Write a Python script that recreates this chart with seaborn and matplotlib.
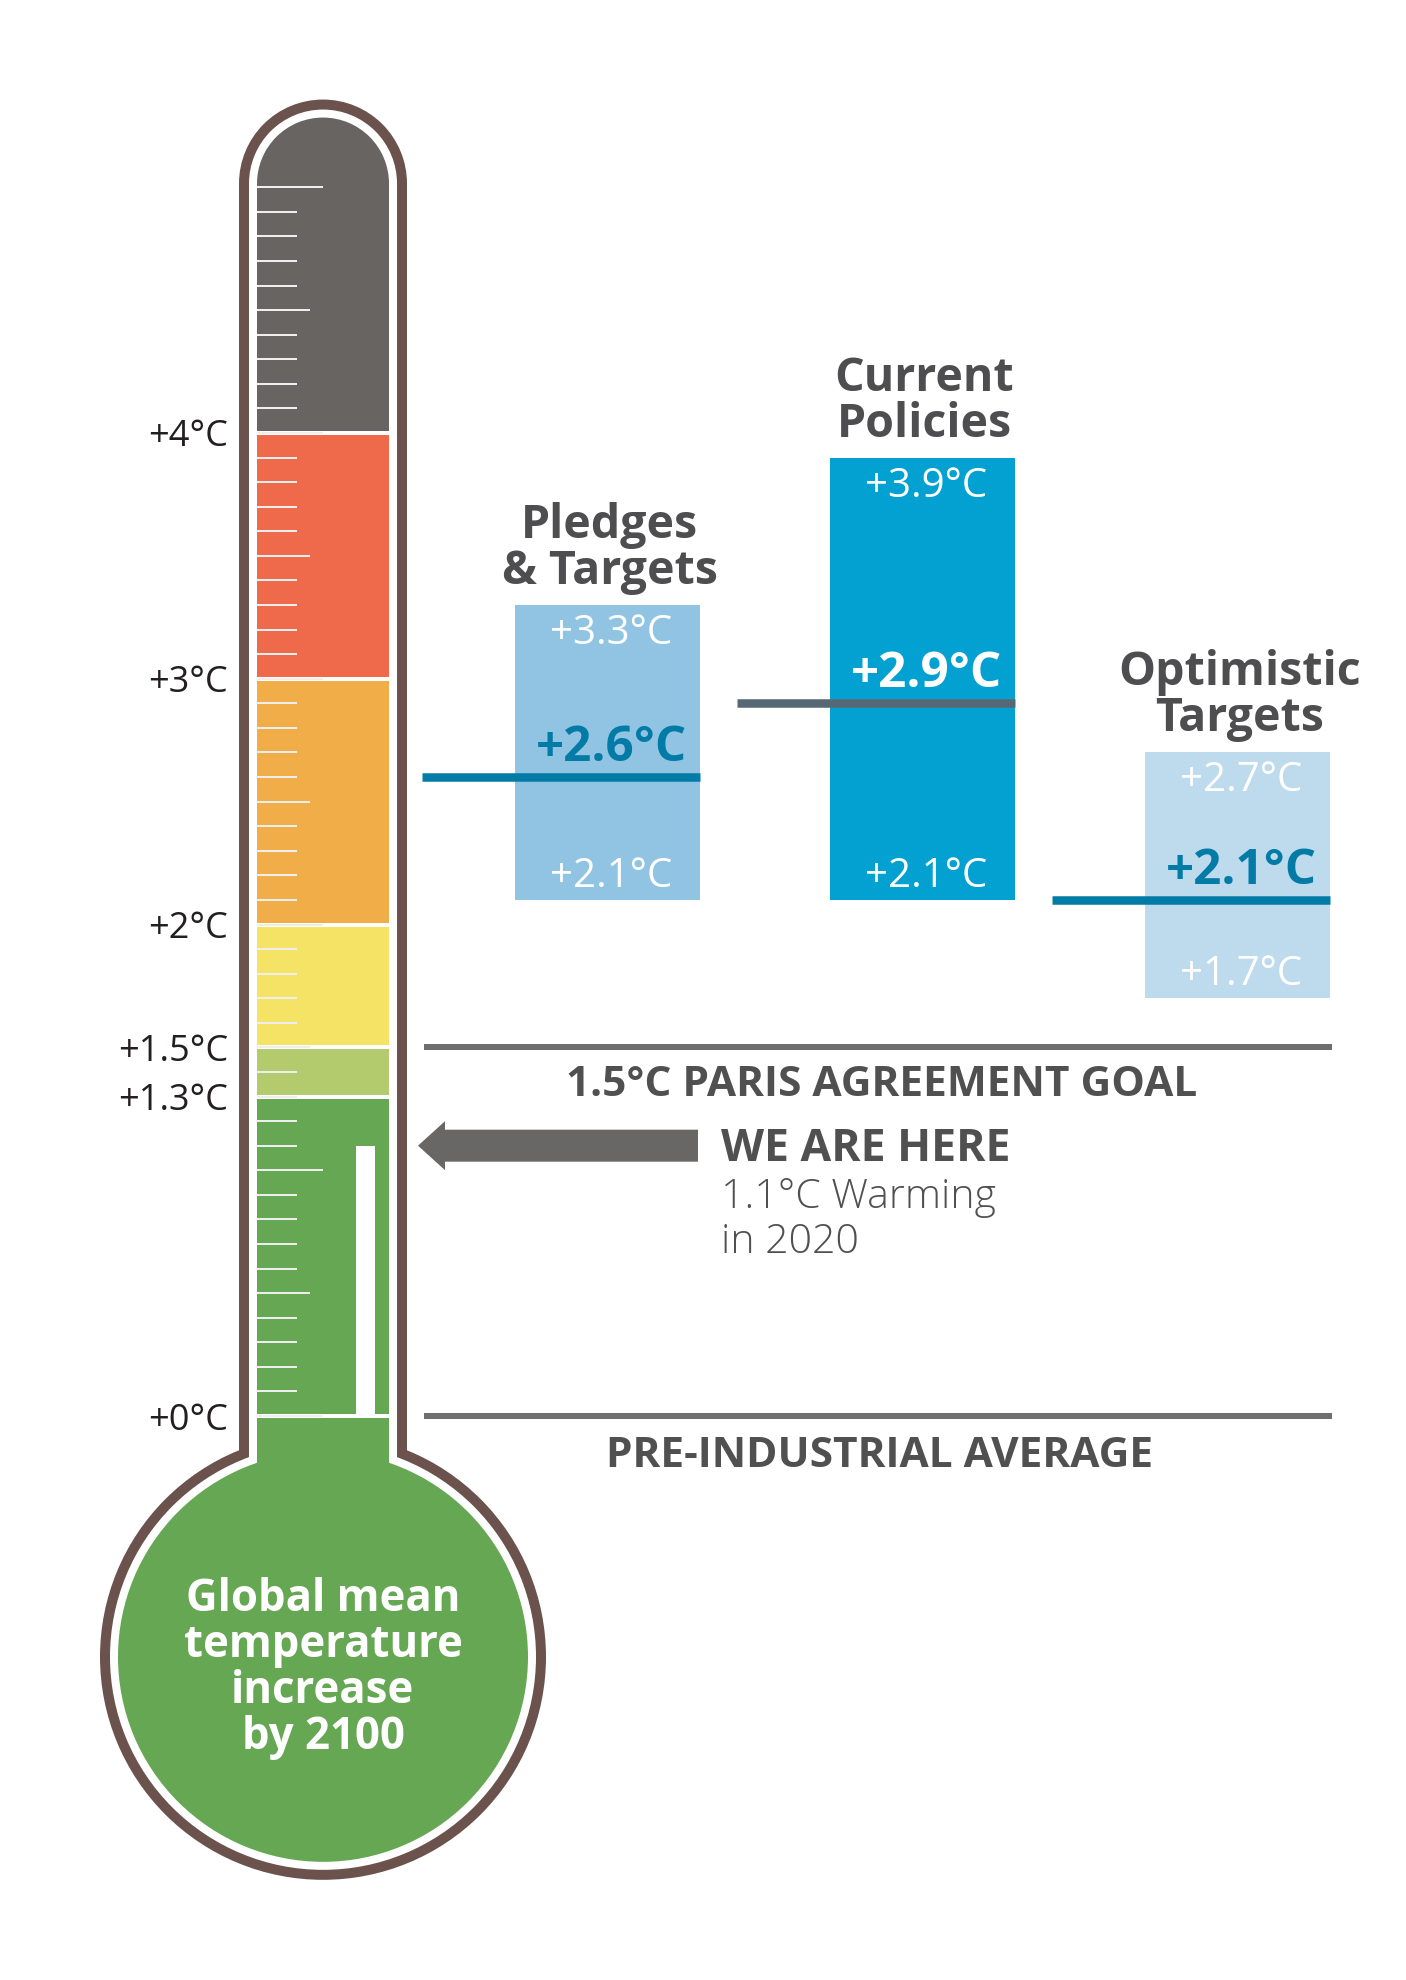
import numpy as np
import pandas as pd
import seaborn as sns
import matplotlib.pyplot as plt
from matplotlib.patches import Ellipse, Rectangle, Polygon

# scenario ranges, warming by 2100 (deg C)
scenarios = ['Pledges\n& Targets', 'Current\nPolicies', 'Optimistic\nTargets']
low = [2.1, 2.1, 1.7]
high = [3.3, 3.9, 2.7]
median = [2.6, 2.9, 2.1]
bar_colors = ['#91C4E3', '#03A1D2', '#BEDAED']
median_colors = ['#027BA6', '#566874', '#027BA6']
median_text_colors = ['#027BA6', 'white', '#027BA6']

# thermometer bands
band_low = [0, 1.3, 1.5, 2, 3, 4]
band_high = [1.3, 1.5, 2, 3, 4, 5]
band_colors = ['#66A753', '#B3CB6C', '#F4E365', '#F1AD48', '#EE6A4B', '#686462']
scale_values = [0, 1.3, 1.5, 2, 3, 4]
scale_labels = ['+0°C', '+1.3°C', '+1.5°C', '+2°C', '+3°C', '+4°C']

paris_goal = 1.5
pre_industrial = 0
current_warming = 1.1
current_year = 2020

sns.set_theme(style='white')
plt.rcParams['font.family'] = ['Open Sans', 'DejaVu Sans']

W, H = 1406, 1980
ZERO_PX = 1416      # pixel row of +0°C
DEG = 245.75        # pixels per °C
y_top = ZERO_PX / DEG
y_bot = (ZERO_PX - H) / DEG


def px(n):
    # pixel length -> °C on the shared vertical scale
    return n / DEG


def lw(n):
    # pixel width -> points
    return n * 72 / 100


fig = plt.figure(figsize=(W / 100, H / 100), dpi=100)
fig.patch.set_facecolor('white')

# ---- thermometer ----
ax = fig.add_axes([0, 0, 1, 1])
ax.set_xlim(0, W)
ax.set_ylim(y_bot, y_top)
ax.axis('off')

brown = '#6B524C'
cx = 323
y_dome = band_high[-1] + px(3.7)
y_bulb = -0.98

for half, r, col, z in [(84, 223, brown, 1), (74, 213, 'white', 2)]:
    ax.add_patch(Rectangle((cx - half, y_bulb), 2 * half, y_dome - y_bulb, color=col, lw=0, zorder=z))
    ax.add_patch(Ellipse((cx, y_dome), 2 * half, px(2 * half), color=col, lw=0, zorder=z))
    ax.add_patch(Ellipse((cx, y_bulb), 2 * r, px(2 * r), color=col, lw=0, zorder=z))

ax.add_patch(Ellipse((cx, y_bulb), 410, px(410), color=band_colors[0], lw=0, zorder=3))
ax.add_patch(Rectangle((cx - 66, y_bulb), 132, -y_bulb, color=band_colors[0], lw=0, zorder=3))

ax.bar(cx, np.subtract(band_high, band_low), width=132, bottom=band_low,
       color=band_colors, linewidth=0, zorder=3)
ax.add_patch(Rectangle((cx - 66, band_high[-1] - 0.01), 132, y_dome - band_high[-1] + 0.01,
                       color=band_colors[-1], lw=0, zorder=3))
ax.add_patch(Ellipse((cx, y_dome), 132, px(132), color=band_colors[-1], lw=0, zorder=3))

ax.hlines(band_low, cx - 66, cx + 66, color='white', lw=lw(4), zorder=4)

# graduations every 0.1 °C
grads = np.round(np.arange(0, 5.05, 0.1), 1)
tick_len = []
for g in grads:
    k = int(round(g * 10))
    tick_len.append(66 if k % 10 == 0 else 53 if k % 5 == 0 else 40)
ax.hlines(grads, cx - 66, cx - 66 + np.array(tick_len), color='#EEEEEE', lw=lw(2), zorder=5)

# mercury column
ax.bar(365.5, current_warming, width=19, bottom=0, color='white', linewidth=0, zorder=4)

for v, lab in zip(scale_values, scale_labels):
    ax.text(228, v - px(13.5), lab, ha='right', va='baseline', fontsize=26, color='#231F20')

bulb_lines = ['Global mean', 'temperature', 'increase', f'by {2100}']
for i, t in enumerate(bulb_lines):
    ax.text(cx, y_bulb + px(46) - i * px(46), t, ha='center', va='baseline',
            fontsize=31.5, fontweight='bold', color='white', zorder=6)

# reference lines
ax.hlines([paris_goal, pre_industrial], 424, 1332, color='#6E6E6E', lw=lw(6))
ax.text(882, paris_goal - px(49), f'{paris_goal}°C PARIS AGREEMENT GOAL', ha='center',
        va='baseline', fontsize=30.5, fontweight='bold', color='#505050')
ax.text(880, pre_industrial - px(51), 'PRE-INDUSTRIAL AVERAGE', ha='center',
        va='baseline', fontsize=30.5, fontweight='bold', color='#505050')

# we are here arrow
h, hh = px(16), px(24.5)
c = current_warming
ax.add_patch(Polygon([(698, c + h), (445, c + h), (445, c + hh), (418, c),
                      (445, c - hh), (445, c - h), (698, c - h)],
                     closed=True, color='#696766', lw=0))
ax.text(721, c - px(15), 'WE ARE HERE', ha='left', va='baseline', fontsize=32,
        fontweight='bold', color='#505050')
ax.text(721, c - px(62), f'{current_warming}°C Warming', ha='left', va='baseline',
        fontsize=29.5, fontweight='light', color='#505050')
ax.text(721, c - px(107), f'in {current_year}', ha='left', va='baseline',
        fontsize=29.5, fontweight='light', color='#505050')

# ---- scenario bars ----
axb = fig.add_axes([0, 0, 1, 1])
axb.patch.set_alpha(0)
df = pd.DataFrame({'scenario': scenarios, 'low': low, 'high': high, 'median': median})
df['span'] = df['high'] - df['low']
sns.barplot(data=df, x='scenario', y='span', bottom=df['low'].values, width=0.587,
            errorbar=None, linewidth=0, color=bar_colors[0], saturation=1, ax=axb, zorder=2)
for patch, col in zip(axb.patches, bar_colors):
    patch.set_facecolor(col)
axb.set_xlim(-1.930, 2.5335)
axb.set_ylim(y_bot, y_top)
axb.axis('off')

for i, row in df.iterrows():
    axb.hlines(row['median'], i - 0.59, i + 0.2935, color=median_colors[i], lw=lw(8.5), zorder=3)
    axb.text(i + 0.01, row['high'] - px(39), f"+{row['high']}°C", ha='center', va='baseline',
             fontsize=29, color='white', zorder=4)
    axb.text(i + 0.01, row['low'] + px(13), f"+{row['low']}°C", ha='center', va='baseline',
             fontsize=29, color='white', zorder=4)
    axb.text(i + 0.01, row['median'] + px(16), f"+{row['median']}°C", ha='center', va='baseline',
             fontsize=35.5, fontweight='bold', color=median_text_colors[i], zorder=4)
    l1, l2 = row['scenario'].split('\n')
    axb.text(i + 0.005, row['high'] + px(67), l1, ha='center', va='baseline',
             fontsize=33.5, fontweight='bold', color='#4E4D4F')
    axb.text(i + 0.005, row['high'] + px(21), l2, ha='center', va='baseline',
             fontsize=33.5, fontweight='bold', color='#4E4D4F')

fig.savefig('out.png', dpi=100)
